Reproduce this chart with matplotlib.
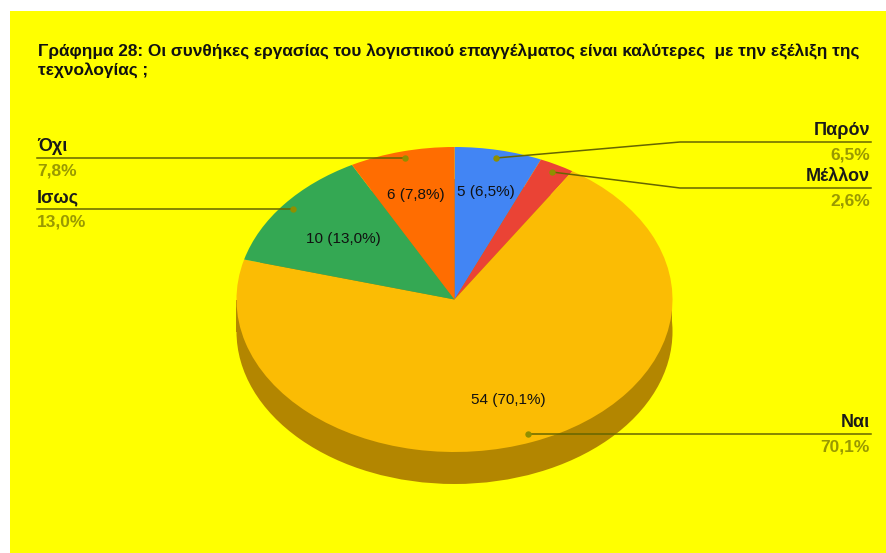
import matplotlib
matplotlib.use('Agg')
import matplotlib.pyplot as plt
from matplotlib.patches import Ellipse, Rectangle

plt.rcParams['font.family'] = ['Liberation Sans', 'DejaVu Sans']

names = ['Παρόν', 'Μέλλον', 'Ναι', 'Ισως', 'Όχι']
values = [5, 2, 54, 10, 6]
percents = ['6,5%', '2,6%', '70,1%', '13,0%', '7,8%']
colors = ['#4285f4', '#ea4335', '#fbbc04', '#34a853', '#ff6d01']
title = ('Γράφημα 28: Οι συνθήκες εργασίας του λογιστικού επαγγέλματος είναι καλύτερες  με την εξέλιξη της\n'
         'τεχνολογίας ;')

W, H = 887, 553
cx, cy, rx, ry, depth = 454.5, 299.5, 218, 152.5, 32

fig = plt.figure(figsize=(W / 100, H / 100), dpi=100, facecolor='white')

# everything except the pie is placed in pixel coords
bg = fig.add_axes([0, 0, 1, 1])
bg.set_xlim(0, W)
bg.set_ylim(H, 0)
bg.axis('off')
bg.add_patch(Rectangle((10, 11), W - 10, H - 11, color='#ffff00', lw=0))

# side of the 3d pie
bg.add_patch(Ellipse((cx, cy + depth), 2 * rx, 2 * ry, color='#b38600', lw=0))
bg.add_patch(Rectangle((cx - rx, cy), 2 * rx, depth, color='#b38600', lw=0))

ax = fig.add_axes([(cx - rx) / W, 1 - (cy + ry) / H, 2 * rx / W, 2 * ry / H])
ax.pie(values, colors=colors, startangle=90, counterclock=False, radius=1,
       wedgeprops={'linewidth': 0})
ax.set_aspect('auto')
ax.set_xlim(-1, 1)
ax.set_ylim(-1, 1)
ax.patch.set_alpha(0)

# overlay for text and leader lines
top = fig.add_axes([0, 0, 1, 1])
top.set_xlim(0, W)
top.set_ylim(H, 0)
top.axis('off')

top.text(38, 61, title, fontsize=12.45, fontweight='bold', color='#111111',
         va='center', linespacing=1.2)

# label text inside the slices
inner_pos = [(486, 192), (0, 0), (508, 400), (343, 239), (416, 195)]
for i in range(len(values)):
    if values[i] < 5:
        continue
    top.text(inner_pos[i][0], inner_pos[i][1], '%d (%s)' % (values[i], percents[i]),
             fontsize=11, color='#111111', ha='center', va='center')

# leader lines: path, then label side
leaders = [
    ([496, 680, 871], [158, 142, 142], 'right'),
    ([552, 680, 871], [172, 188, 188], 'right'),
    ([528, 871], [434, 434], 'right'),
    ([293, 37], [209, 209], 'left'),
    ([405, 37], [158, 158], 'left'),
]
for i, (xs, ys, side) in enumerate(leaders):
    top.plot(xs, ys, color='#666600', lw=1.1, solid_joinstyle='round')
    top.plot(xs[0], ys[0], 'o', color='#8f8f00', ms=4.6, mew=0)
    tx = xs[-1]
    if side == 'right':
        tx -= 1
    top.text(tx, ys[-1] - 3, names[i], fontsize=13, fontweight='bold',
             color='#1a1a1a', ha=side, va='bottom')
    top.text(tx, ys[-1] + 5.5, percents[i], fontsize=12.5, fontweight='bold',
             color='#999900', ha=side, va='top')

fig.savefig('out.png', dpi=100, facecolor='white')
